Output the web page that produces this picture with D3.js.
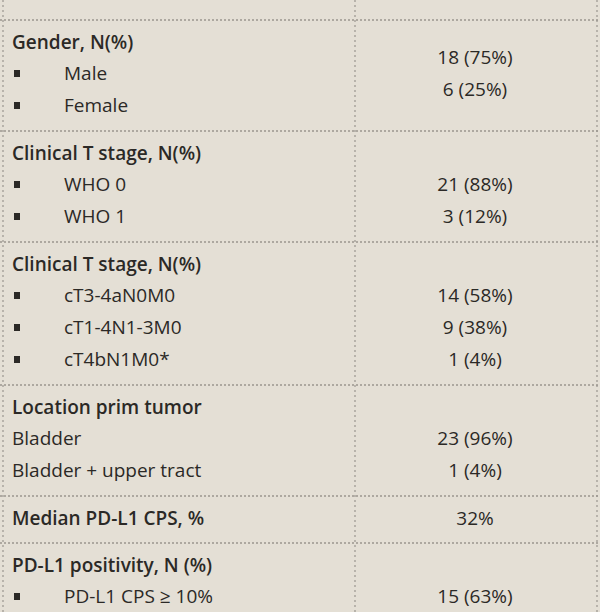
<!DOCTYPE html>
<html><head><meta charset="utf-8">
<script src="https://cdn.jsdelivr.net/npm/d3@7"></script>
<style>body{margin:0;background:#e4dfd5}svg{display:block}</style>
</head><body><div id="t"></div>
<script>
// section headers and their rows
const headers = ['Gender, N(%)', 'Clinical T stage, N(%)', 'Clinical T stage, N(%)', 'Location prim tumor', 'Median PD-L1 CPS, %', 'PD-L1 positivity, N (%)'];
const headerValues = ['', '', '', '', '32%', ''];
const rowLabels = [
  ['Male', 'Female'],
  ['WHO 0', 'WHO 1'],
  ['cT3-4aN0M0', 'cT1-4N1-3M0', 'cT4bN1M0*'],
  ['Bladder', 'Bladder + upper tract'],
  [],
  ['PD-L1 CPS \u2265 10%']
];
const rowValues = [
  ['18 (75%)', '6 (25%)'],
  ['21 (88%)', '3 (12%)'],
  ['14 (58%)', '9 (38%)', '1 (4%)'],
  ['23 (96%)', '1 (4%)'],
  [],
  ['15 (63%)']
];
const bulleted = [true, true, true, false, false, true];

const W = 600, H = 612;
const svg = d3.select('#t').append('svg').attr('width', W).attr('height', H);
svg.append('rect').attr('width', W).attr('height', H).attr('fill', '#e4dfd5');

// vertical slots: 32px per text line
const y = d3.scaleLinear().domain([0, 1]).range([0, 32]);
const colX = d3.scaleOrdinal().domain(['label', 'divider', 'value']).range([12, 355, 475]);
const ink = '#2b2926', line = '#9a968f';
const font = 'Open Sans, sans-serif';

let cur = 20;
const borders = [cur];
headers.forEach((h, i) => {
  const g = svg.append('g').attr('transform', `translate(0,${cur})`);
  const n = rowLabels[i].length;
  g.append('text').attr('x', colX('label')).attr('y', y(0) + 29)
    .attr('font-weight', 600).attr('font-size', 19).attr('fill', ink)
    .attr('font-family', font).text(h);
  if (headerValues[i]) g.append('text').attr('x', colX('value')).attr('y', y(0) + 29)
    .attr('text-anchor', 'middle').attr('font-size', 19).attr('fill', ink)
    .attr('font-family', font).text(headerValues[i]);
  const offset = i === 0 ? -16 : 0;
  rowLabels[i].forEach((r, j) => {
    const ty = y(j + 1) + 28;
    if (bulleted[i]) g.append('rect').attr('x', 14).attr('y', ty - 10).attr('width', 6).attr('height', 7).attr('fill', ink);
    g.append('text').attr('x', bulleted[i] ? 64 : 12).attr('y', ty)
      .attr('font-size', 19).attr('fill', ink).attr('font-family', font).text(r);
    g.append('text').attr('x', colX('value')).attr('y', ty + offset)
      .attr('text-anchor', 'middle').attr('font-size', 19).attr('fill', ink)
      .attr('font-family', font).text(rowValues[i][j]);
  });
  cur += y(n + 1) + 15;
  borders.push(cur);
});

// dotted grid
borders.forEach(b => svg.append('line').attr('x1', 0).attr('x2', W).attr('y1', b).attr('y2', b)
  .attr('stroke', line).attr('stroke-width', 1.5).attr('stroke-dasharray', '2,2'));
[3, colX('divider'), 597].forEach(x => svg.append('line').attr('x1', x).attr('x2', x).attr('y1', 0).attr('y2', H)
  .attr('stroke', line).attr('stroke-width', 1.2).attr('stroke-dasharray', '2,3'));
</script></body></html>
